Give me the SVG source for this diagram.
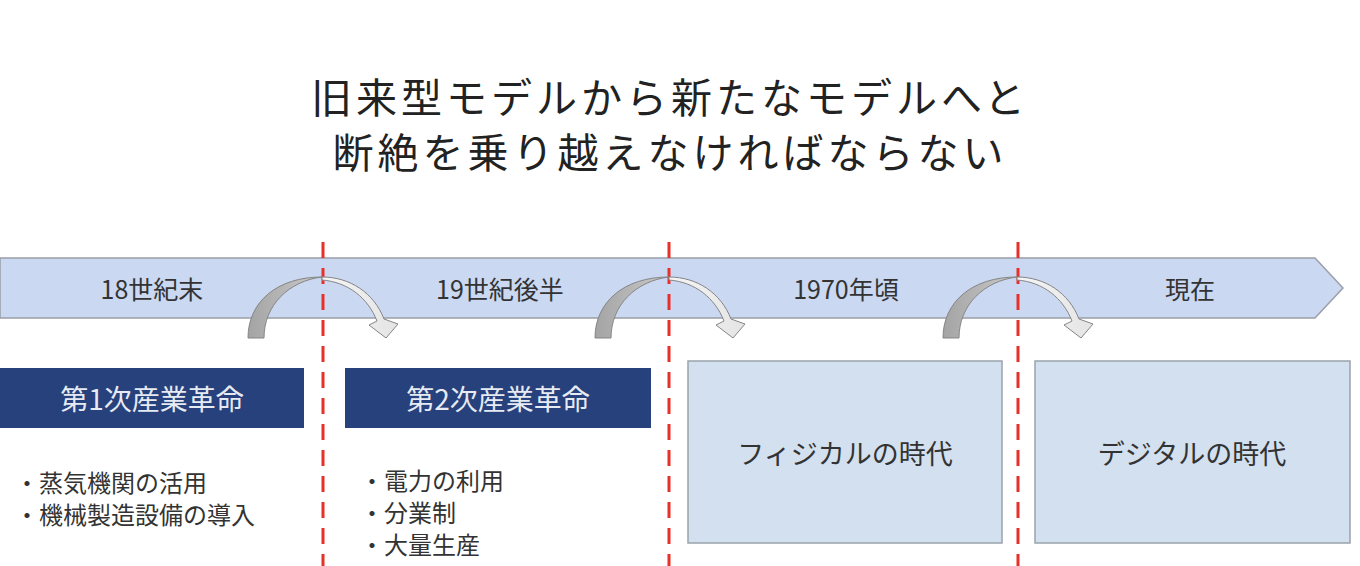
<svg xmlns="http://www.w3.org/2000/svg" width="1360" height="566" viewBox="0 0 1360 566">
<defs>
<style>
text{font-family:"Noto Sans CJK JP","Noto Sans CJK SC",sans-serif;}
.title{font-size:41px;letter-spacing:4px;fill:#222;text-anchor:middle;}
.band{font-size:25px;fill:#333;text-anchor:middle;dominant-baseline:central;}
.dark{fill:#26417b;}
.dtxt{font-size:28px;fill:#e6eaf3;text-anchor:middle;dominant-baseline:central;}
.light{fill:#d3e0ef;stroke:#9aa3ad;stroke-width:1.5;}
.ltxt{font-size:27px;fill:#333;text-anchor:middle;dominant-baseline:central;}
.bul{font-size:24px;fill:#333;}
.cut{stroke:#e8302a;stroke-width:3;stroke-dasharray:16 10;fill:none;}
.arrL{fill:url(#gL);stroke:#858585;stroke-width:1;}
.arrR{fill:url(#gR);stroke:#858585;stroke-width:1;}
</style>
<linearGradient id="gL" x1="0" y1="0" x2="1" y2="0">
<stop offset="0" stop-color="#a4a4a4"/>
<stop offset="1" stop-color="#cacaca"/>
</linearGradient>
<linearGradient id="gR" x1="0" y1="0" x2="1" y2="0">
<stop offset="0" stop-color="#f6f6f6"/>
<stop offset="1" stop-color="#e4e4e4"/>
</linearGradient>
<g id="curve">
<path class="arrL" d="M -74 61 C -74 25 -45 0 0 0 C -33 4 -58 28 -58 61 Z"/>
<path class="arrR" d="M 0 0 C 28 0 52 16 62 42 L 76 47 L 64 61 L 47 48 L 55 44 C 46 21 26 5 0 3 Z"/>
</g>
</defs>
<rect width="1360" height="566" fill="#ffffff"/>
<g id="title">
<text class="title" x="670" y="113">旧来型モデルから新たなモデルへと</text>
<text class="title" x="670" y="168">断絶を乗り越えなければならない</text>
</g>
<g id="timeline">
<path d="M 0 258 L 1315 258 L 1343 288 L 1315 318 L 0 318 Z" fill="#cad8f2" stroke="#9a9fa8" stroke-width="1.5"/>
<text class="band" x="152" y="288">18世紀末</text>
<text class="band" x="500" y="288">19世紀後半</text>
<text class="band" x="846" y="288">1970年頃</text>
<text class="band" x="1190" y="288">現在</text>
</g>
<g id="node-1">
<rect class="dark" x="0" y="368" width="304" height="60"/>
<text class="dtxt" x="152" y="398">第1次産業革命</text>
<text class="bul" x="15" y="492">・蒸気機関の活用</text>
<text class="bul" x="15" y="524">・機械製造設備の導入</text>
</g>
<g id="node-2">
<rect class="dark" x="345" y="368" width="306" height="60"/>
<text class="dtxt" x="498" y="398">第2次産業革命</text>
<text class="bul" x="360" y="490">・電力の利用</text>
<text class="bul" x="360" y="522">・分業制</text>
<text class="bul" x="360" y="554">・大量生産</text>
</g>
<g id="node-3">
<rect class="light" x="688" y="361" width="314" height="182"/>
<text class="ltxt" x="845" y="452">フィジカルの時代</text>
</g>
<g id="node-4">
<rect class="light" x="1035" y="361" width="315" height="182"/>
<text class="ltxt" x="1192" y="452">デジタルの時代</text>
</g>
<g id="connectors">
<line class="cut" x1="323" y1="242" x2="323" y2="566"/>
<line class="cut" x1="669" y1="242" x2="669" y2="566"/>
<line class="cut" x1="1018" y1="242" x2="1018" y2="566"/>
<use href="#curve" x="322" y="277"/>
<use href="#curve" x="669" y="277"/>
<use href="#curve" x="1017" y="277"/>
</g>
</svg>
